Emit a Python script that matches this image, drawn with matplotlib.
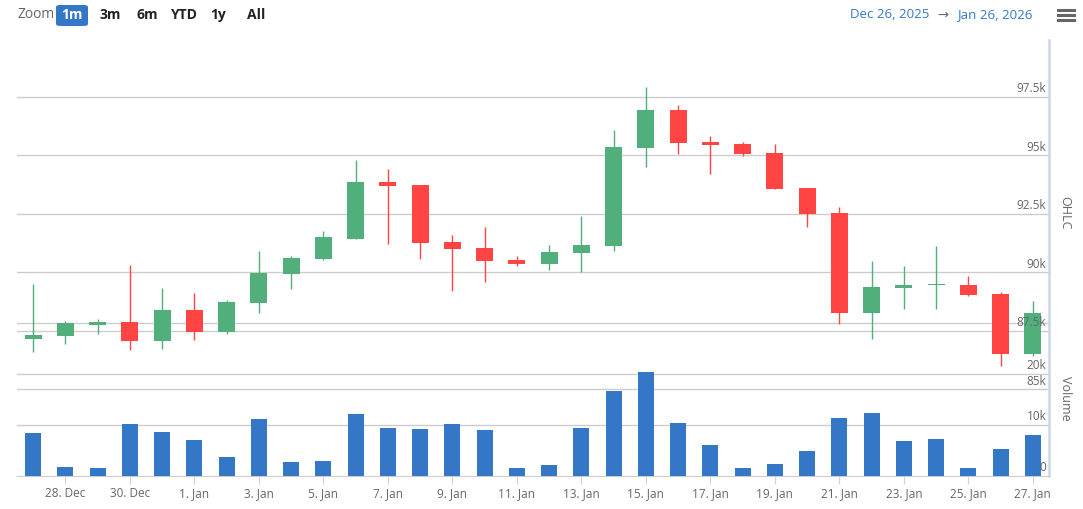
# OHLC candles with volume underneath, 1 month view
import numpy as np
import pandas as pd
import matplotlib
matplotlib.use("Agg")
import matplotlib.pyplot as plt
import matplotlib.dates as mdates
from matplotlib.transforms import blended_transform_factory
from matplotlib.patches import FancyBboxPatch

plt.rcParams['font.family'] = ['Open Sans', 'DejaVu Sans']

# data (prices in k, volume in k)
dates = pd.date_range("2025-12-27", "2026-01-27", freq="D")
opens = [87.14, 87.27, 87.74, 87.87, 87.05, 88.38, 87.44, 88.68, 89.92, 90.56, 91.42,
         93.85, 93.73, 91.29, 91.03, 90.52, 90.35, 90.82, 91.12, 95.31, 96.93, 95.56,
         95.48, 95.09, 93.60, 92.53, 88.25, 89.32, 89.43, 89.45, 89.06, 86.50]
highs = [89.49, 87.91, 87.99, 90.30, 89.32, 89.11, 88.81, 90.90, 90.69, 91.76, 94.79,
         94.41, 93.73, 91.59, 91.93, 90.69, 91.16, 92.40, 96.08, 97.92, 97.14, 95.82,
         95.56, 95.48, 93.60, 92.78, 90.47, 90.26, 91.12, 89.83, 89.15, 88.76]
lows = [86.58, 86.92, 87.35, 86.67, 86.71, 87.10, 87.35, 88.25, 89.28, 90.52, 91.40,
        91.20, 90.56, 89.19, 89.58, 90.26, 90.09, 90.00, 90.90, 94.50, 95.05, 94.20,
        94.97, 93.55, 91.93, 87.78, 87.14, 88.42, 88.42, 88.98, 85.98, 86.41]
closes = [87.31, 87.82, 87.87, 87.05, 88.38, 87.44, 88.72, 89.96, 90.60, 91.50, 93.85,
          93.68, 91.24, 90.99, 90.47, 90.35, 90.86, 91.16, 95.35, 96.93, 95.52, 95.44,
          95.05, 93.55, 92.48, 88.25, 89.36, 89.45, 89.46, 89.02, 86.50, 88.25]
volumes = [8.4, 1.8, 1.6, 10.2, 8.6, 7.1, 3.7, 11.2, 2.7, 2.9, 12.2,
           9.4, 9.2, 10.2, 9.0, 1.6, 2.2, 9.4, 16.7, 20.4, 10.4, 6.1,
           1.6, 2.4, 4.9, 11.4, 12.4, 6.9, 7.3, 1.6, 5.3, 8.0]

price_ticks = [85, 87.5, 90, 92.5, 95, 97.5]
price_labels = ["85k", "87.5k", "90k", "92.5k", "95k", "97.5k"]
vol_grid = [10, 20, 30]
vol_ticks = [0, 10, 20]
vol_labels = ["0", "10k", "20k"]

up_col = "#51af7b"
down_col = "#ff4444"
vol_col = "#3477c7"
grid_col = "#cccccc"
text_col = "#666666"

W, H = 1083, 509
fig = plt.figure(figsize=(W / 100, H / 100), dpi=100)
ax = fig.add_axes([17 / W, (H - 476) / H, 1032 / W, 436 / H])
ax2 = ax.twinx()

x = mdates.date2num(dates)
o = np.array(opens)
c = np.array(closes)
up = c >= o
cols = np.where(up, up_col, down_col)

# candles
ax.vlines(x, lows, highs, colors=cols, linewidth=1, zorder=2)
body = np.maximum(np.abs(c - o), 0.05)
ax.bar(x, body, bottom=np.minimum(o, c), width=0.52, color=cols, zorder=3)

# volume
ax2.bar(x, volumes, width=0.5, color=vol_col, zorder=3)

ax.set_xlim(x[0] - 0.5, x[-1] + 0.5)
ax.set_ylim(81.28, 99.93)
ax2.set_ylim(0, 85.5)

# gridlines, all behind marks
for p in price_ticks:
    ax.axhline(p, color=grid_col, lw=1, zorder=0)
tv = blended_transform_factory(ax.transAxes, ax2.transData)
for v in vol_grid:
    ax.plot([0, 1], [v, v], color=grid_col, lw=1, transform=tv, zorder=0)

ax.set_yticks([])
ax2.set_yticks([])

# axis labels drawn by hand, highcharts style
tp = blended_transform_factory(ax.transAxes, ax.transData)
for p, lab in zip(price_ticks, price_labels):
    ax.text(0.9975, p + 0.06, lab, transform=tp, ha="right", va="bottom",
            fontsize=8.5, color=text_col, zorder=5)
for v, lab in zip(vol_ticks, vol_labels):
    ax2.text(0.9975, v + 0.35, lab, transform=tv, ha="right", va="bottom",
             fontsize=8.5, color=text_col, zorder=5)

fig.text(1065 / W, 1 - 213 / H, "OHLC", rotation=270, ha="center", va="center",
         fontsize=9, color=text_col)
fig.text(1065 / W, 1 - 398 / H, "Volume", rotation=270, ha="center", va="center",
         fontsize=9, color=text_col)

# spines
for a in (ax, ax2):
    for s in ("top", "left"):
        a.spines[s].set_visible(False)
ax.spines["right"].set_visible(False)
ax2.spines["bottom"].set_visible(False)
ax.spines["bottom"].set_color(grid_col)
ax2.spines["right"].set_color("#ccd6eb")
ax2.spines["right"].set_linewidth(1.8)

ax.set_xticks(x[1::2])
ax.set_xticklabels([f"{d.day}. {d.strftime('%b')}" for d in dates[1::2]])
ax.tick_params(axis="x", length=6, color="#ccd6eb", labelcolor=text_col,
               labelsize=8.5, pad=2)

# toolbar
def px(xp, yp):
    return xp / W, 1 - yp / H

fig.text(*px(17, 15), "Zoom", ha="left", va="center", fontsize=10, color=text_col)
btn = FancyBboxPatch(px(56, 26), 32 / W, 21 / H, boxstyle="round,pad=0,rounding_size=0.004",
                     transform=fig.transFigure, facecolor=vol_col, edgecolor="none")
fig.patches.append(btn)
fig.text(*px(72, 15), "1m", ha="center", va="center", fontsize=10,
         color="white", fontweight="bold")
for xc, lab in zip([110, 147, 183, 218, 256], ["3m", "6m", "YTD", "1y", "All"]):
    fig.text(*px(xc, 15), lab, ha="center", va="center", fontsize=10,
             color="#222222", fontweight="bold")

fig.text(*px(890, 15), "Dec 26, 2025", ha="center", va="center", fontsize=9.5, color=vol_col)
fig.text(*px(943, 15), "\u2192", ha="center", va="center", fontsize=9.5, color=text_col)
fig.text(*px(995, 15), "Jan 26, 2026", ha="center", va="center", fontsize=9.5, color=vol_col)
for yb in (10, 15, 20):
    fig.lines.append(plt.Line2D([1058 / W, 1074 / W], [1 - yb / H] * 2,
                                transform=fig.transFigure, color=text_col, lw=2.2))

fig.savefig("out.png", dpi=100)
